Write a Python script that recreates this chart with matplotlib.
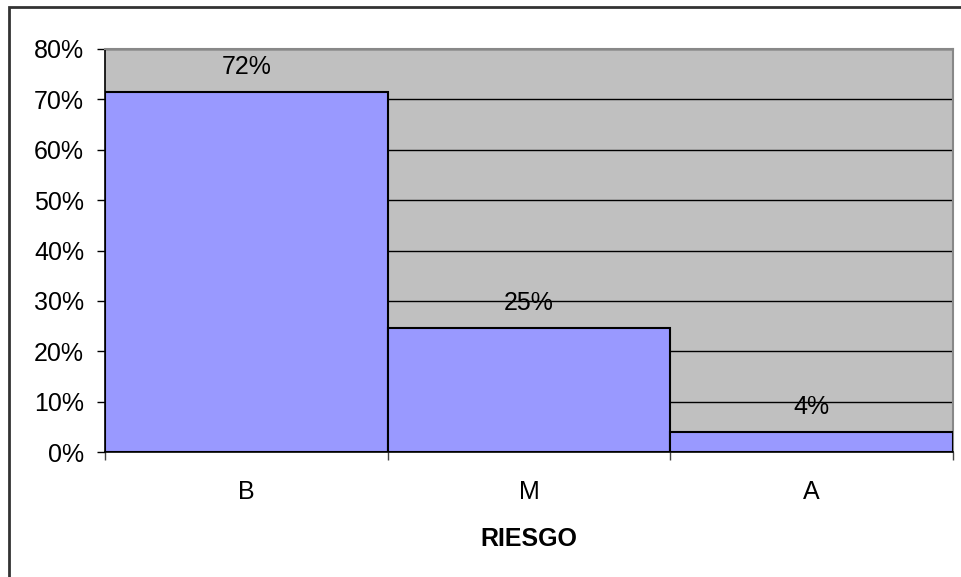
import matplotlib
matplotlib.use("Agg")
import matplotlib.pyplot as plt
from matplotlib.patches import Rectangle
from matplotlib.ticker import MultipleLocator, FuncFormatter

categories = ["B", "M", "A"]
shares = [0.715, 0.246, 0.039]
axis_title = "RIESGO"

plt.rcParams["font.family"] = ["Liberation Sans", "DejaVu Sans"]

W, H = 961, 577
FS = 18
fig = plt.figure(figsize=(W / 100, H / 100), dpi=100)

# outer chart frame (extends past the right and bottom edges)
fig.patches.append(Rectangle((9 / W, -0.1), 1.2, 1 - 7 / H + 0.1,
                             transform=fig.transFigure, fill=False,
                             edgecolor="#333333", linewidth=2, zorder=0))

ax = fig.add_axes([105 / W, 1 - 452 / H, (953 - 105) / W, (452 - 49) / H])
ax.set_facecolor("#C0C0C0")

x = list(range(len(categories)))
bars = ax.bar(x, shares, width=1.0, color="#9999FF", edgecolor="black",
              linewidth=1.5, zorder=3)

ax.set_xlim(-0.5, len(categories) - 0.5)
ax.set_ylim(0, 0.8)
ax.yaxis.set_major_locator(MultipleLocator(0.1))
ax.yaxis.set_major_formatter(FuncFormatter(lambda v, _: f"{v * 100:.0f}%"))
ax.grid(axis="y", color="black", linewidth=1, zorder=1)
ax.set_axisbelow(True)

# category boundaries carry the ticks, labels sit at the centres
ax.set_xticks([i - 0.5 for i in range(len(categories) + 1)])
ax.set_xticklabels([])
ax.set_xticks(x, minor=True)
ax.set_xticklabels(categories, minor=True)
ax.tick_params(axis="x", which="major", length=6, width=1, color="#444444",
               direction="out")
ax.tick_params(axis="x", which="minor", length=0, pad=20, labelsize=FS)
ax.tick_params(axis="y", length=6, width=1, direction="out", labelsize=FS,
               pad=9)

for side in ("top", "right"):
    ax.spines[side].set_color("#888888")
    ax.spines[side].set_linewidth(1.5)
for side in ("left", "bottom"):
    ax.spines[side].set_color("black")
    ax.spines[side].set_linewidth(1.2)

ax.set_xlabel(axis_title, fontsize=FS, fontweight="bold", labelpad=17)

for rect, v in zip(bars, shares):
    ax.annotate(f"{v * 100:.0f}%",
                (rect.get_x() + rect.get_width() / 2, v),
                xytext=(0, 18), textcoords="offset points",
                ha="center", va="center", fontsize=FS, zorder=5)

fig.savefig("out.png", dpi=100)
